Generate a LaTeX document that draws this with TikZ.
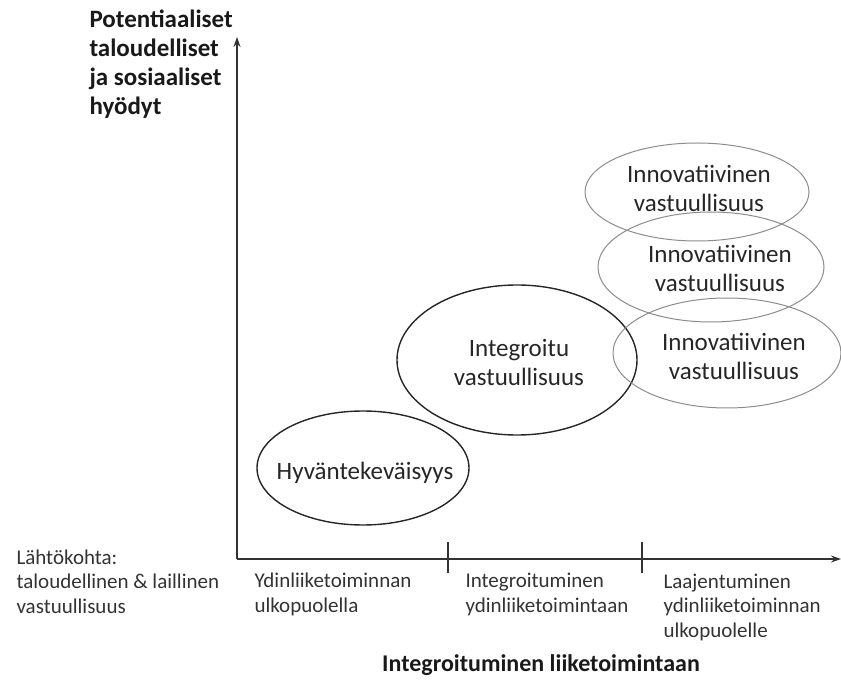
\documentclass[tikz,border=0pt]{standalone}
\usepackage{fontspec}
\setmainfont{Carlito}
\usetikzlibrary{arrows.meta,shapes.geometric,positioning}

\begin{document}
\begin{tikzpicture}[x=1pt, y=-1pt,
  every node/.style={font=\fontsize{21}{24.5}\selectfont, text=black!80},
  axe/.style={line width=1.5pt, black!80},
  oval/.style={ellipse, draw, inner sep=0pt, line width=1.4pt, black!85},
  ovalgris/.style={ellipse, draw, inner sep=0pt, line width=1pt, black!45},
  gros/.style={font=\fontsize{25}{29}\selectfont, text=black!85, align=center},
  titre/.style={font=\fontsize{25}{29}\selectfont\bfseries, text=black!90, align=left}]
  \useasboundingbox (0,0) rectangle (841,684);

  % Axes
  \coordinate (O) at (237,559);
  \coordinate (ytop) at (237,37);
  \coordinate (xend) at (841,559);
  \draw[axe, -{Stealth[length=10pt,width=7pt]}] (O) -- (ytop);
  \draw[axe, -{Stealth[length=10pt,width=7pt]}] (O) -- (xend);

  % Jakoviivat
  \coordinate (t1a) at (448,542); \coordinate (t1b) at (448,573);
  \coordinate (t2a) at (642,542); \coordinate (t2b) at (642,573);
  \draw[axe] (t1a) -- (t1b);
  \draw[axe] (t2a) -- (t2b);

  % Akselien tekstit (base = viimeisen rivin perusviiva)
  \node[titre, anchor=base west] (ylab) at (86,115) {Potentiaaliset\\taloudelliset\\ja sosiaaliset\\hyödyt};
  \node[titre, font=\fontsize{24}{28}\selectfont\bfseries, anchor=base] (xlab) at (541,671) {Integroituminen liiketoimintaan};
  \node[align=left, anchor=base west] (lahto) at (13,613) {Lähtökohta:\\taloudellinen \& laillinen\\vastuullisuus};
  \node[align=left, anchor=base west] (v1) at (251,612) {Ydinliiketoiminnan\\ulkopuolella};
  \node[align=left, anchor=base west] (v2) at (462,612) {Integroituminen\\ydinliiketoimintaan};
  \node[align=left, anchor=base west] (v3) at (660,637) {Laajentuminen\\ydinliiketoiminnan\\ulkopuolelle};

  % Ellipsit
  \node[oval, minimum width=212pt, minimum height=114pt] (hyv) at (363,468) {};
  \node[oval, minimum width=240pt, minimum height=150pt] (integ) at (517,360) {};
  \node[ovalgris, minimum width=224pt, minimum height=98pt] (inno1) at (697,192) {};
  \node[ovalgris, minimum width=226pt, minimum height=110pt] (inno2) at (711,267) {};
  \node[ovalgris, minimum width=228pt, minimum height=110pt] (inno3) at (727,353) {};

  \node[gros] (hyvt) at (365,473) {Hyväntekeväisyys};
  \node[gros] (integt) at (519,362) {Integroitu\\vastuullisuus};
  \node[gros] (inno1t) at (699,188) {Innovatiivinen\\vastuullisuus};
  \node[gros] (inno2t) at (720,268) {Innovatiivinen\\vastuullisuus};
  \node[gros] (inno3t) at (734,356) {Innovatiivinen\\vastuullisuus};
\end{tikzpicture}
\end{document}
